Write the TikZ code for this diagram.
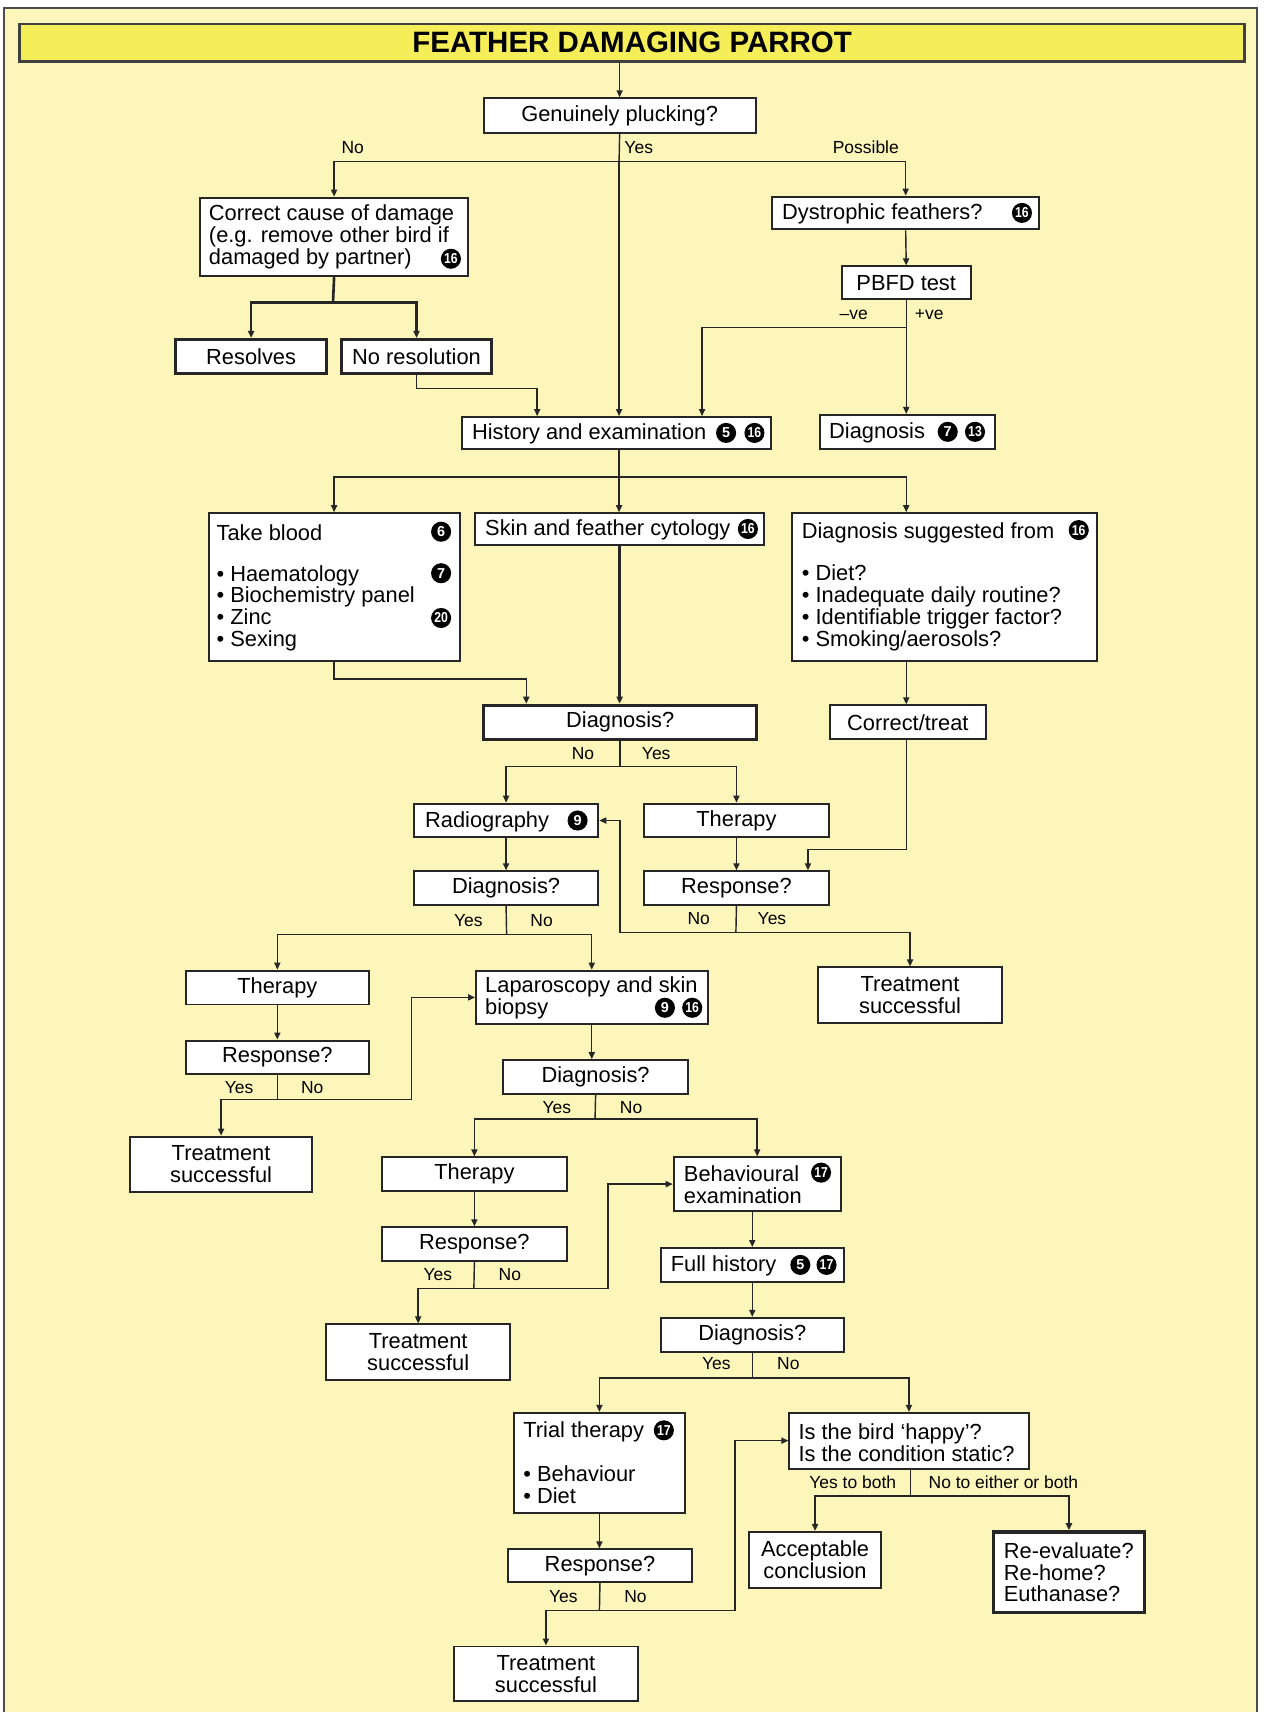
\documentclass[tikz,border=0pt]{standalone}
\usepackage{fontspec}
\setmainfont{Liberation Sans}
\usetikzlibrary{arrows.meta, positioning, calc}

\definecolor{pagebg}{RGB}{252,246,186}
\definecolor{titlebg}{RGB}{246,238,88}

\tikzset{
  box/.style={draw=black!85, fill=white, line width=0.9pt, inner sep=0pt,
    font=\fontsize{10}{10}\selectfont, align=center},
  heavybox/.style={box, line width=1.5pt},
  wh/.style 2 args={minimum width=0.5*#1pt, minimum height=0.5*#2pt},
  titlebar/.style={draw=black!75, fill=titlebg, line width=1.3pt, inner sep=0pt,
    font=\bfseries\fontsize{13.5}{13.5}\selectfont},
  txt/.style={inner sep=0pt, font=\fontsize{10}{10}\selectfont, align=left, anchor=west},
  num/.style={circle, fill=black, text=white, inner sep=0pt, minimum size=9.2pt,
    font=\bfseries\fontsize{6.6}{6.6}\selectfont},
  lbl/.style={inner sep=0pt, font=\fontsize{8}{8}\selectfont},
  line/.style={draw=black!85, line width=0.65pt},
  heavy/.style={line width=1.2pt},
  arr/.style={line, -{Triangle[length=3.2pt, width=2.8pt]}},
}

\begin{document}
\begin{tikzpicture}[x=0.5pt, y=-0.5pt]
  \useasboundingbox (0,0) rectangle (1157,1568);

  % page background and frame
  \fill[pagebg] (4,7) rectangle (1150,1568);
  \draw[black!70, line width=0.8pt] (4,1568) -- (4,7) -- (1151,7) -- (1151,1568);

  % title bar
  \node[titlebar, wh={1122}{34}] (title) at (579,39) {FEATHER DAMAGING PARROT};

  % first question
  \node[box, wh={249}{32}] (plucking) at (567.5,106) {Genuinely plucking?};

  % left branch
  \node[box, wh={246}{72}] (cause) at (306,217) {};
  \node[txt] (causetext) at (191,217) {Correct cause of damage\\(e.g. remove other bird if\\damaged by partner)};
  \node[num] (causeref) at (413,237) {\scalebox{0.85}[1]{16}};
  \node[heavybox, wh={138}{31}] (resolves) at (230,326.5) {Resolves};
  \node[heavybox, wh={137}{31}] (nores) at (381.5,326.5) {No resolution};

  % right branch
  \node[box, wh={245}{30}] (dystro) at (829.5,195) {};
  \node[txt] (dystrotext) at (716,196) {Dystrophic feathers?};
  \node[num] (dystroref) at (936,195) {\scalebox{0.85}[1]{16}};
  \node[box, wh={118}{30}] (pbfd) at (830,259) {PBFD test};
  \node[box, wh={160}{31}] (diagpos) at (831,395.5) {};
  \node[txt] (diagpostext) at (759,396.5) {Diagnosis};
  \node[num] (diagposrefa) at (868,395.5) {7};
  \node[num] (diagposrefb) at (893,395.5) {\scalebox{0.85}[1]{13}};

  % history
  \node[box, wh={283}{29}] (history) at (564.5,396.5) {};
  \node[txt] (historytext) at (432,397.5) {History and examination};
  \node[num] (historyrefa) at (665,396.5) {5};
  \node[num] (historyrefb) at (691,396.5) {\scalebox{0.85}[1]{16}};

  % investigations
  \node[box, wh={230}{135}] (blood) at (306,537.5) {};
  \node[txt] (bloodtext) at (198,488) {Take blood};
  \node[txt] (bloodlist) at (198,557) {• Haematology\\• Biochemistry panel\\• Zinc\\• Sexing};
  \node[num] (bloodrefa) at (404,487) {6};
  \node[num] (bloodrefb) at (404,525) {7};
  \node[num] (bloodrefc) at (404,566) {\scalebox{0.85}[1]{20}};

  \node[box, wh={265}{29}] (cyto) at (567.5,484.5) {};
  \node[txt] (cytotext) at (444,485.5) {Skin and feather cytology};
  \node[num] (cytoref) at (685,484.5) {\scalebox{0.85}[1]{16}};

  \node[box, wh={280}{135}] (suggest) at (865,537.5) {};
  \node[txt] (suggesttext) at (734,488) {Diagnosis suggested from};
  \node[txt] (suggestlist) at (734,556.5) {• Diet?\\• Inadequate daily routine?\\• Identifiable trigger factor?\\• Smoking/aerosols?};
  \node[num] (suggestref) at (988,485.5) {\scalebox{0.85}[1]{16}};

  \node[heavybox, wh={250}{31}] (diag1) at (568,661.5) {Diagnosis?};
  \node[box, wh={143}{31}] (correct) at (831.5,661.5) {Correct/treat};

  % second level
  \node[box, wh={169}{31}] (radio) at (463.5,751.5) {};
  \node[txt] (radiotext) at (389,752.5) {Radiography};
  \node[num] (radioref) at (529,751.5) {9};
  \node[box, wh={169}{31}] (ther1) at (674.5,751.5) {Therapy};
  \node[box, wh={169}{31}] (diag2) at (463.5,813.5) {Diagnosis?};
  \node[box, wh={169}{31}] (resp1) at (674.5,813.5) {Response?};
  \node[box, wh={169}{51}] (ts1) at (833.5,911.5) {Treatment\\successful};

  % third level
  \node[box, wh={168}{31}] (ther2) at (254,904.5) {Therapy};
  \node[box, wh={212}{49}] (lap) at (542,913.5) {};
  \node[txt] (laptext) at (444,914) {Laparoscopy and skin\\biopsy};
  \node[num] (laprefa) at (609,923) {9};
  \node[num] (laprefb) at (634,923) {\scalebox{0.85}[1]{16}};
  \node[box, wh={168}{31}] (resp2) at (254,968.5) {Response?};
  \node[box, wh={167}{51}] (ts2) at (202.5,1066.5) {Treatment\\successful};
  \node[box, wh={169}{31}] (diag3) at (545.5,986.5) {Diagnosis?};

  % fourth level
  \node[box, wh={169}{31}] (ther3) at (434.5,1075.5) {Therapy};
  \node[box, wh={153}{49}] (behav) at (693.5,1084.5) {};
  \node[txt] (behavtext) at (626,1085) {Behavioural\\examination};
  \node[num] (behavref) at (752,1074) {\scalebox{0.85}[1]{17}};
  \node[box, wh={169}{31}] (resp3) at (434.5,1139.5) {Response?};
  \node[box, wh={168}{51}] (ts3) at (383,1238.5) {Treatment\\successful};
  \node[box, wh={168}{31}] (full) at (689,1158.5) {};
  \node[txt] (fulltext) at (614,1159.5) {Full history};
  \node[num] (fullrefa) at (733,1158.5) {5};
  \node[num] (fullrefb) at (757,1158.5) {\scalebox{0.85}[1]{17}};
  \node[box, wh={168}{31}] (diag4) at (689,1222.5) {Diagnosis?};

  % last level
  \node[box, wh={156}{92}] (trial) at (549,1340) {};
  \node[txt] (trialtext) at (479,1311) {Trial therapy};
  \node[num] (trialref) at (608,1310) {\scalebox{0.85}[1]{17}};
  \node[txt] (triallist) at (479,1360) {• Behaviour\\• Diet};
  \node[box, wh={219}{51}] (happy) at (832.5,1319.5) {};
  \node[txt] (happytext) at (731,1321) {Is the bird ‘happy’?\\Is the condition static?};
  \node[box, wh={121}{51}] (accept) at (746.5,1428.5) {Acceptable\\conclusion};
  \node[heavybox, wh={138}{74}] (reeval) at (979,1440) {};
  \node[txt] (reevaltext) at (919,1440) {Re-evaluate?\\Re-home?\\Euthanase?};
  \node[box, wh={169}{30}] (resp4) at (549.5,1434) {Response?};
  \node[box, wh={168}{50}] (ts4) at (500,1533) {Treatment\\successful};

  % junctions and bends
  \coordinate (j1) at (567,148);
  \coordinate (j2) at (305,277);
  \coordinate (k1) at (492,356);
  \coordinate (j3) at (830,300);
  \coordinate (k2) at (643,300);
  \coordinate (j4) at (567,437);
  \coordinate (k3) at (830,437);
  \coordinate (k4) at (482,622);
  \coordinate (j5) at (568,702);
  \coordinate (k5) at (740,778);
  \coordinate (j6) at (464,856);
  \coordinate (j7) at (674,854);
  \coordinate (k6) at (568,854);
  \coordinate (j8) at (254,1007);
  \coordinate (k7) at (377,1007);
  \coordinate (j9) at (545,1025);
  \coordinate (j10) at (434,1180);
  \coordinate (k8) at (557,1180);
  \coordinate (j11) at (689,1262);
  \coordinate (j12) at (549,1475);
  \coordinate (k9) at (673,1475);
  \coordinate (j13) at (834,1370);

  % connectors
  \draw[arr] (plucking.north |- title.south) -- (plucking.north);
  \draw[line] (plucking.south) -- (j1);
  \draw[arr] (j1) -| (cause.north);
  \draw[arr] (j1) -| (dystro.north);
  \draw[arr] (j1) -- (j1 |- history.north);
  \node[lbl] (lno1) at (323,135) {No};
  \node[lbl] (lyes1) at (585,135) {Yes};
  \node[lbl] (lposs) at (793,135) {Possible};

  \draw[line, heavy] (cause.south) -- (j2);
  \draw[arr, heavy] (j2) -| (resolves.north);
  \draw[arr, heavy] (j2) -| (nores.north);
  \draw[arr] (nores.south) |- (k1) -- (k1 |- history.north);

  \draw[arr] (dystro.south) -- (pbfd.north);
  \draw[arr] (pbfd.south) -- (pbfd.south |- diagpos.north);
  \draw[arr] (j3) -- (k2) -- (k2 |- history.north);
  \node[lbl] (lneg) at (782,288) {–ve};
  \node[lbl] (lpos) at (851,288) {+ve};

  \draw[line] (j4 |- history.south) -- (j4);
  \draw[arr] (j4) -| (blood.north);
  \draw[arr] (j4) -- (j4 |- cyto.north);
  \draw[arr] (j4) -- (k3) -- (k3 |- suggest.north);

  \draw[arr] (blood.south) |- (k4) -- (k4 |- diag1.north);
  \draw[arr, heavy] (cyto.south) -- (cyto.south |- diag1.north);
  \draw[arr] (k3 |- suggest.south) -- (k3 |- correct.north);

  \draw[line] (diag1.south) -- (j5);
  \draw[arr] (j5) -| (radio.north);
  \draw[arr] (j5) -| (ther1.north);
  \node[lbl] (lno2) at (534,690) {No};
  \node[lbl] (lyes2) at (601,690) {Yes};

  \draw[arr] (k3 |- correct.south) |- (k5) -- (k5 |- resp1.north);
  \draw[arr] (radio.south) -- (diag2.north);
  \draw[arr] (ther1.south) -- (resp1.north);

  \draw[line] (diag2.south) -- (j6);
  \draw[arr] (j6) -| (ther2.north);
  \draw[arr] (j6) -| (lap.north);
  \node[lbl] (lyes3) at (429,843) {Yes};
  \node[lbl] (lno3) at (496,843) {No};

  \draw[line] (resp1.south) -- (j7);
  \draw[arr] (j7) -| (ts1.north);
  \draw[arr] (j7) -- (k6) |- (radio.east);
  \node[lbl] (lno4) at (640,841) {No};
  \node[lbl] (lyes4) at (707,841) {Yes};

  \draw[arr] (ther2.south) -- (resp2.north);
  \draw[line] (resp2.south) -- (j8);
  \draw[arr] (j8) -| (ts2.north);
  \draw[arr] (j8) -- (k7) |- (lap.west);
  \node[lbl] (lyes5) at (219,996) {Yes};
  \node[lbl] (lno5) at (286,996) {No};

  \draw[arr] (lap.south) -- (lap.south |- diag3.north);
  \draw[line] (diag3.south) -- (j9);
  \draw[arr] (j9) -| (ther3.north);
  \draw[arr] (j9) -| (behav.north);
  \node[lbl] (lyes6) at (510,1014) {Yes};
  \node[lbl] (lno6) at (578,1014) {No};

  \draw[arr] (ther3.south) -- (resp3.north);
  \draw[line] (resp3.south) -- (j10);
  \draw[arr] (j10) -| (ts3.north);
  \draw[arr] (j10) -- (k8) |- (behav.west);
  \node[lbl] (lyes7) at (401,1167) {Yes};
  \node[lbl] (lno7) at (467,1167) {No};

  \draw[arr] (full.north |- behav.south) -- (full.north);
  \draw[arr] (full.south) -- (diag4.north);
  \draw[line] (diag4.south) -- (j11);
  \draw[arr] (j11) -| (trial.north);
  \draw[arr] (j11) -| (happy.north);
  \node[lbl] (lyes8) at (656,1249) {Yes};
  \node[lbl] (lno8) at (722,1249) {No};

  \draw[arr] (trial.south) -- (trial.south |- resp4.north);
  \draw[line] (resp4.south) -- (j12);
  \draw[arr] (j12) -| (ts4.north);
  \draw[arr] (j12) -- (k9) |- (happy.west);
  \node[lbl] (lyes9) at (516,1462) {Yes};
  \node[lbl] (lno9) at (582,1462) {No};

  \draw[line] (happy.south -| j13) -- (j13);
  \draw[arr, heavy] (j13) -| (accept.north);
  \draw[arr, heavy] (j13) -| (reeval.north);
  \node[lbl] (lboth) at (781,1358) {Yes to both};
  \node[lbl] (leither) at (919,1358) {No to either or both};
\end{tikzpicture}
\end{document}
